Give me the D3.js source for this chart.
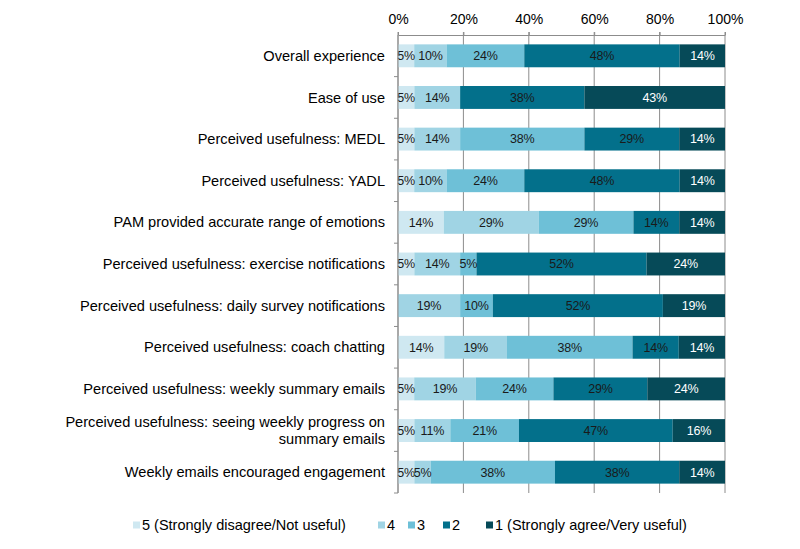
<!DOCTYPE html>
<html>
<head>
<meta charset="utf-8">
<script src="https://cdn.jsdelivr.net/npm/d3@7"></script>
<style>
  body { margin: 0; background: #fff; }
  svg { font-family: "Liberation Sans", Arial, sans-serif; }
</style>
</head>
<body>
<div id="chart"></div>
<script>
// Survey items, top to bottom
const categories = [
  'Overall experience',
  'Ease of use',
  'Perceived usefulness: MEDL',
  'Perceived usefulness: YADL',
  'PAM provided accurate range of emotions',
  'Perceived usefulness: exercise notifications',
  'Perceived usefulness: daily survey notifications',
  'Perceived usefulness: coach chatting',
  'Perceived usefulness: weekly summary emails',
  'Perceived usefulness: seeing weekly progress on summary emails',
  'Weekly emails encouraged engagement'
];

// Percent per rating (5 = strongly disagree ... 1 = strongly agree)
const s5 = [5, 5, 5, 5, 14, 5, 0, 14, 5, 5, 5];
const s4 = [10, 14, 14, 10, 29, 14, 19, 19, 19, 11, 5];
const s3 = [24, 0, 38, 24, 29, 5, 10, 38, 24, 21, 38];
const s2 = [48, 38, 29, 48, 14, 52, 52, 14, 29, 47, 38];
const s1 = [14, 43, 14, 14, 14, 24, 19, 14, 24, 16, 14];

const seriesKeys = ['5', '4', '3', '2', '1'];
const legendLabels = ['5 (Strongly disagree/Not useful)', '4', '3', '2', '1 (Strongly agree/Very useful)'];
const tickLabels = ['0%', '20%', '40%', '60%', '80%', '100%'];

const colors = ['#cfe8f1', '#a0d4e4', '#6ec0d7', '#03708b', '#064a58'];

const width = 800, height = 549;
const margin = { top: 35, right: 75, bottom: 56, left: 398 };

const rows = categories.map((c, i) => ({
  cat: c, '5': s5[i], '4': s4[i], '3': s3[i], '2': s2[i], '1': s1[i]
}));

// rows don't all sum to exactly 100 (rounding), so expand each to full width
const stacked = d3.stack()
  .keys(seriesKeys)
  .offset(d3.stackOffsetExpand)(rows);

const svg = d3.select('#chart').append('svg')
  .attr('width', width)
  .attr('height', height);

const x = d3.scaleLinear().domain([0, 1]).range([margin.left, width - margin.right]);
const y = d3.scaleBand().domain(categories).range([margin.top, height - margin.bottom]).paddingInner(0.45).paddingOuter(0.225);
const yBand = d3.scaleBand().domain(categories).range([margin.top, height - margin.bottom]);

// Gridlines
svg.append('g')
  .selectAll('line')
  .data(d3.range(0, 1.01, 0.2))
  .join('line')
  .attr('x1', d => x(d)).attr('x2', d => x(d))
  .attr('y1', margin.top - 3).attr('y2', height - margin.bottom)
  .attr('stroke', '#8c8c8c')
  .attr('stroke-width', 1);

// Bars
const color = d3.scaleOrdinal().domain(seriesKeys).range(colors);
const layers = svg.append('g').selectAll('g')
  .data(stacked)
  .join('g')
  .attr('fill', d => color(d.key));

layers.selectAll('rect')
  .data(d => d)
  .join('rect')
  .attr('x', d => x(d[0]))
  .attr('y', d => y(d.data.cat))
  .attr('width', d => x(d[1]) - x(d[0]))
  .attr('height', y.bandwidth());

// Segment labels
const labels = svg.append('g');
stacked.forEach(layer => {
  labels.selectAll(null)
    .data(layer.filter(d => d.data[layer.key] > 0))
    .join('text')
    .attr('x', d => (x(d[0]) + x(d[1])) / 2)
    .attr('y', d => y(d.data.cat) + y.bandwidth() / 2)
    .attr('dy', '0.35em')
    .attr('text-anchor', 'middle')
    .attr('font-size', 12.5)
    .attr('letter-spacing', -0.2)
    .attr('fill', layer.key === '1' ? '#ffffff' : '#1a1a1a')
    .text(d => d.data[layer.key] + '%');
});

// Top axis
const xAxis = svg.append('g')
  .attr('transform', `translate(0,${margin.top})`)
  .call(d3.axisTop(x).tickValues(d3.range(0, 1.01, 0.2)).tickFormat((d, i) => tickLabels[i]).tickSize(3).tickSizeOuter(0));
xAxis.select('.domain').attr('stroke', '#8c8c8c');
xAxis.selectAll('.tick line').attr('stroke', '#8c8c8c');
xAxis.selectAll('.tick text').attr('font-size', 14).attr('fill', '#000').attr('dy', '-0.35em');

// Left axis line and category separators
svg.append('line')
  .attr('x1', margin.left).attr('x2', margin.left)
  .attr('y1', margin.top).attr('y2', height - margin.bottom)
  .attr('stroke', '#8c8c8c');
svg.append('g')
  .selectAll('line')
  .data(categories)
  .join('line')
  .attr('x1', margin.left - 4).attr('x2', margin.left)
  .attr('y1', (d, i) => yBand.step() * (i + 1) + margin.top)
  .attr('y2', (d, i) => yBand.step() * (i + 1) + margin.top)
  .attr('stroke', '#8c8c8c');

// Category labels (wrap the long one)
const catLabels = svg.append('g')
  .selectAll('text')
  .data(categories)
  .join('text')
  .attr('x', margin.left - 13)
  .attr('y', d => y(d) + y.bandwidth() / 2)
  .attr('text-anchor', 'end')
  .attr('font-size', 14.6)
  .attr('fill', '#000');

catLabels.each(function(d) {
  const t = d3.select(this);
  if (d.length > 50) {
    const lines = ['Perceived usefulness: seeing weekly progress on', 'summary emails'];
    lines.forEach((ln, i) => {
      t.append('tspan')
        .attr('x', margin.left - 13)
        .attr('dy', i === 0 ? '-0.22em' : '1.14em')
        .text(ln);
    });
  } else {
    t.attr('dy', '0.35em').text(d);
  }
});

// Legend
const legendX = [133, 378, 408, 443, 486];
const legend = svg.append('g').attr('transform', `translate(0, 525)`);
const items = legend.selectAll('g')
  .data(seriesKeys)
  .join('g')
  .attr('transform', (d, i) => `translate(${legendX[i]},0)`);
items.append('rect')
  .attr('x', 0).attr('y', -3.5)
  .attr('width', 7).attr('height', 7)
  .attr('fill', d => color(d));
items.append('text')
  .attr('x', 9)
  .attr('dy', '0.35em')
  .attr('font-size', 14.5)
  .attr('fill', '#000')
  .text((d, i) => legendLabels[i]);
</script>
</body>
</html>
